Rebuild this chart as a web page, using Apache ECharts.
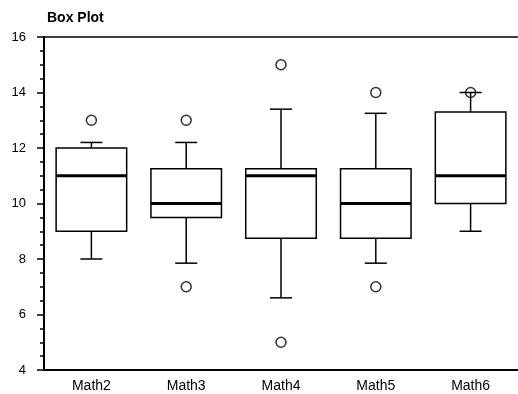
<!DOCTYPE html>
<html>
<head>
<meta charset="utf-8">
<script src="https://cdn.jsdelivr.net/npm/echarts@6/dist/echarts.min.js"></script>
<style>
html,body{margin:0;padding:0;background:#fff;}
#chart{width:518px;height:394px;}
</style>
</head>
<body>
<div id="chart"></div>
<script>
var categories = ['Math2', 'Math3', 'Math4', 'Math5', 'Math6'];
var lowerWhisker = [8, 7.85, 6.6, 7.85, 9];
var q1 = [9, 9.5, 8.75, 8.75, 10];
var median = [11, 10, 11, 10, 11];
var q3 = [12, 11.25, 11.25, 11.25, 13.3];
var upperWhisker = [12.2, 12.2, 13.4, 13.25, 14];
var outliers = [[0, 13], [1, 7], [1, 13], [2, 5], [2, 15], [3, 7], [3, 14], [4, 14]];
var yTicks = [4, 6, 8, 10, 12, 14, 16];

var boxData = categories.map(function (c, i) {
  return [i, lowerWhisker[i], q1[i], median[i], q3[i], upperWhisker[i]];
});

var FONT = "'Liberation Sans', Arial, sans-serif";

function renderBox(params, api) {
  var idx = api.value(0);
  var lo = api.coord([idx, api.value(1)]);
  var b1 = api.coord([idx, api.value(2)]);
  var md = api.coord([idx, api.value(3)]);
  var b3 = api.coord([idx, api.value(4)]);
  var hi = api.coord([idx, api.value(5)]);
  var band = api.size([1, 0])[0];
  var half = band * 0.372;
  var cap = 11;
  var x = lo[0];
  var st = { stroke: '#000', lineWidth: 1.5, fill: null };
  return {
    type: 'group',
    children: [
      { type: 'rect', shape: { x: x - half, y: b3[1], width: half * 2, height: b1[1] - b3[1] }, style: { stroke: '#000', lineWidth: 1.5, fill: 'none' } },
      { type: 'line', shape: { x1: x, y1: b3[1], x2: x, y2: hi[1] }, style: st },
      { type: 'line', shape: { x1: x, y1: b1[1], x2: x, y2: lo[1] }, style: st },
      { type: 'line', shape: { x1: x - cap, y1: hi[1], x2: x + cap, y2: hi[1] }, style: st },
      { type: 'line', shape: { x1: x - cap, y1: lo[1], x2: x + cap, y2: lo[1] }, style: st },
      { type: 'line', shape: { x1: x - half, y1: md[1], x2: x + half, y2: md[1] }, style: { stroke: '#000', lineWidth: 3 } }
    ]
  };
}

var chart = echarts.init(document.getElementById('chart'), null, { renderer: 'canvas' });
chart.setOption({
  animation: false,
  backgroundColor: '#fff',
  title: {
    text: 'Box Plot',
    left: 42,
    top: 6,
    textStyle: { fontFamily: FONT, fontSize: 14, fontWeight: 'bold', color: '#000' }
  },
  grid: { left: 44, top: 37, width: 478, height: 333 },
  xAxis: [
    {
      type: 'category',
      data: categories,
      position: 'bottom',
      boundaryGap: true,
      axisLine: { lineStyle: { color: '#000', width: 2 } },
      axisTick: { alignWithLabel: true, length: 4, lineStyle: { color: '#000', width: 1.5 } },
      axisLabel: { color: '#000', fontFamily: FONT, fontSize: 14, margin: 9 },
      splitLine: { show: false }
    },
    {
      type: 'category',
      data: categories,
      position: 'top',
      boundaryGap: true,
      axisLine: { lineStyle: { color: '#000', width: 1.5 } },
      axisTick: { alignWithLabel: true, length: 4, lineStyle: { color: '#000', width: 1.5 } },
      axisLabel: { show: false },
      splitLine: { show: false }
    }
  ],
  yAxis: {
    type: 'value',
    min: yTicks[0],
    max: yTicks[yTicks.length - 1],
    interval: 2,
    axisLine: { show: true, lineStyle: { color: '#000', width: 2 } },
    axisTick: { show: true, length: 7, lineStyle: { color: '#000', width: 1.5 } },
    minorTick: { show: true, splitNumber: 4, length: 4, lineStyle: { color: '#000', width: 1.5 } },
    axisLabel: { color: '#000', fontFamily: FONT, fontSize: 13, margin: 18 },
    splitLine: { show: false }
  },
  series: [
    {
      type: 'custom',
      renderItem: renderBox,
      data: boxData,
      encode: { x: 0, y: [1, 2, 3, 4, 5] },
      z: 2
    },
    {
      type: 'scatter',
      data: outliers,
      symbol: 'circle',
      symbolSize: 10,
      itemStyle: { color: 'transparent', borderColor: '#000', borderWidth: 1.5 },
      z: 3
    }
  ]
});
</script>
</body>
</html>
